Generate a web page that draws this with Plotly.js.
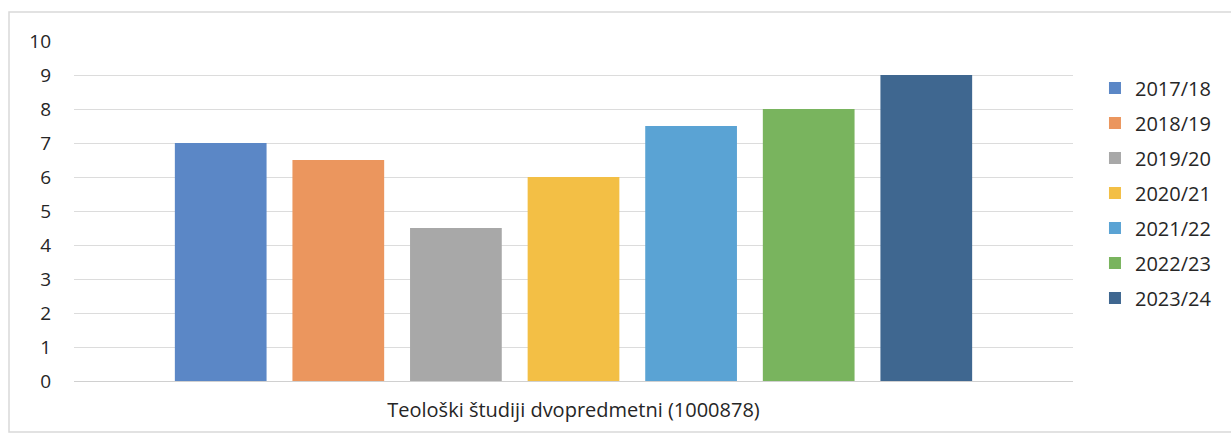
<!DOCTYPE html>
<html>
<head>
<meta charset="utf-8">
<script src="https://cdn.plot.ly/plotly-3.0.1.min.js"></script>
<style>html,body{margin:0;padding:0;background:#fff;}#chart{width:1231px;height:436px;}</style>
</head>
<body>
<div id="chart"></div>
<script>
const category = ["Teološki študiji dvopredmetni (1000878)"];
const years = ["2017/18", "2018/19", "2019/20", "2020/21", "2021/22", "2022/23", "2023/24"];
const values = [7, 6.5, 4.5, 6, 7.5, 8, 9];
const colors = ["#5b87c6", "#eb965e", "#a8a8a8", "#f3bf45", "#5aa3d4", "#79b45e", "#3f6790"];
const yTicks = [0, 1, 2, 3, 4, 5, 6, 7, 8, 9, 10];

const font = "Open Sans, Liberation Sans, sans-serif";
const textColor = "#262626";
const traces = years.map((y, i) => ({
  type: "bar",
  name: y,
  x: category,
  y: [values[i]],
  marker: {color: colors[i], line: {width: 0}},
  legendgroup: "g" + i,
  hoverinfo: "name+y"
}));

const layout = {
  width: 1231, height: 436,
  margin: {l: 74, r: 158, t: 41, b: 55},
  paper_bgcolor: "#ffffff",
  plot_bgcolor: "#ffffff",
  barmode: "group",
  bargap: 0.176,
  bargroupgap: 0.22,
  font: {family: font, size: 19, color: textColor},
  xaxis: {
    type: "category",
    showgrid: false,
    zeroline: false,
    showline: false,
    ticks: "",
    ticklabelstandoff: 15,
    tickfont: {family: font, size: 20, color: textColor}
  },
  yaxis: {
    range: [0, 10],
    tickvals: yTicks,
    ticktext: yTicks.map(String),
    showgrid: true,
    gridcolor: "#dcdcdc",
    gridwidth: 1,
    zeroline: true,
    zerolinecolor: "#d0d0d0",
    zerolinewidth: 1,
    showline: false,
    ticks: "",
    ticklabelstandoff: 22,
    tickfont: {family: font, size: 19, color: textColor}
  },
  showlegend: true,
  legend: {
    x: 1.022, xanchor: "left",
    y: 0.553, yanchor: "middle",
    traceorder: "grouped",
    tracegroupgap: 6,
    font: {family: font, size: 20, color: textColor},
    bgcolor: "rgba(0,0,0,0)",
    itemwidth: 30
  },
  shapes: [{
    type: "rect", xref: "paper", yref: "paper",
    x0: -65 / 999, x1: 1.17,
    y0: -51 / 340, y1: 1 + 29 / 340,
    line: {color: "#d9d9d9", width: 1.5},
    fillcolor: "rgba(0,0,0,0)",
    layer: "below"
  }]
};

Plotly.newPlot("chart", traces, layout, {displayModeBar: false, staticPlot: true});
</script>
</body>
</html>
